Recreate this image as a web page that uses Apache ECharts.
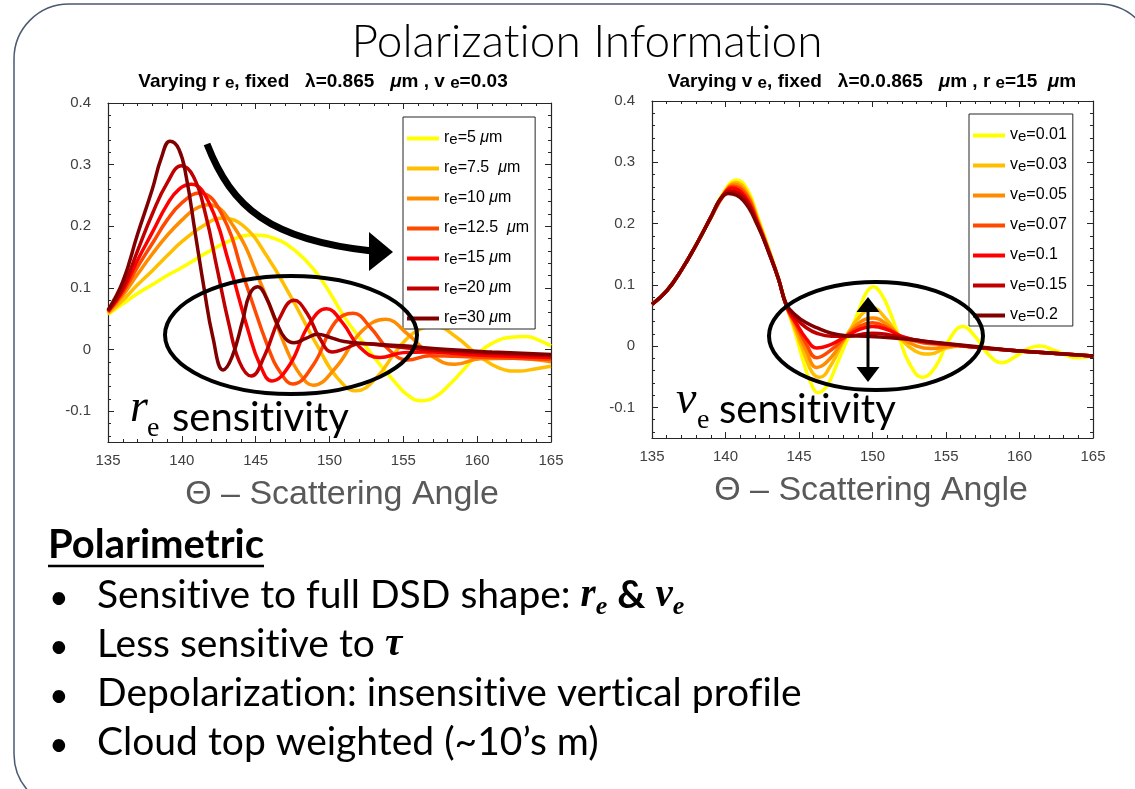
<!DOCTYPE html>
<html lang="en">
<head>
<meta charset="UTF-8">
<title>Polarization Information</title>
<style>
  html, body { margin: 0; padding: 0; background: #fff; }
  #main { width: 1135px; height: 789px; }
</style>
</head>
<body>
<div id="main"></div>
<script src="https://cdn.jsdelivr.net/npm/echarts@6/dist/echarts.min.js"></script>
<script>
// ---- left panel: varying r_e (lambda = 0.865 um, v_e = 0.03)
var reLabels = ['5 ', '7.5  ', '10 ', '12.5  ', '15 ', '20 ', '30 '];
var re5 = [[135,0.057],[136,0.074],[137,0.091],[138,0.105],[139,0.12],[140,0.133],[141.6,0.156],[143.2,0.176],[144.8,0.186],[146.3,0.18],[147.7,0.16],[149,0.128],[150,0.093],[151,0.053],[152.1,0.017],[153.2,-0.018],[154.4,-0.052],[155.3,-0.074],[156.2,-0.083],[157.2,-0.076],[158.2,-0.055],[159.1,-0.032],[160,-0.008],[161,0.01],[162.3,0.02],[163.3,0.021],[164.2,0.015],[165,0.006]];
var re7_5 = [[135,0.058],[136,0.08],[137,0.105],[138,0.128],[139,0.152],[140,0.175],[141.4,0.2],[142.7,0.213],[144.2,0.2],[145.8,0.15],[147.4,0.085],[148.3,0.045],[149.2,0.005],[150.5,-0.045],[151.8,-0.067],[153.2,-0.045],[154.6,0.0],[155.9,0.03],[157.2,0.037],[158.6,0.02],[160.1,-0.01],[161.5,-0.03],[162.8,-0.035],[164,-0.031],[165,-0.027]];
var re10 = [[135,0.06],[136,0.088],[137,0.122],[138,0.155],[139,0.185],[140,0.21],[140.9,0.228],[141.8,0.235],[143.5,0.2],[145.3,0.11],[147.1,0.0],[148,-0.04],[148.9,-0.058],[150.4,-0.03],[152.2,0.03],[153.8,0.049],[155.3,0.025],[156.9,-0.01],[158.5,-0.024],[160.2,-0.015],[162.5,-0.014],[165,-0.02]];
var re12_5 = [[135,0.061],[136,0.092],[137,0.134],[138,0.172],[139,0.21],[140,0.238],[141.2,0.254],[142.7,0.22],[144.3,0.11],[145.9,0.0],[146.7,-0.038],[147.5,-0.056],[148.9,-0.025],[150.4,0.045],[151.6,0.059],[152.8,0.035],[154,0.0],[155.3,-0.017],[156.8,-0.01],[158.5,-0.011],[161,-0.013],[165,-0.016]];
var re15 = [[135,0.062],[136,0.096],[137,0.145],[138,0.19],[139,0.235],[139.8,0.26],[140.65,0.268],[141.9,0.235],[143.2,0.14],[144.5,0.03],[145.3,-0.025],[146.1,-0.051],[147.3,-0.025],[148.6,0.04],[149.8,0.066],[150.9,0.043],[152,0.005],[153.4,-0.013],[155,-0.005],[156.5,-0.004],[160,-0.009],[165,-0.013]];
var re20 = [[135,0.063],[136,0.1],[137,0.16],[138,0.22],[139,0.27],[139.97,0.298],[140.8,0.28],[141.6,0.22],[142.4,0.13],[143.2,0.04],[143.9,-0.02],[144.7,-0.043],[145.6,-0.01],[146.6,0.05],[147.6,0.08],[148.5,0.058],[149.3,0.02],[150.2,-0.004],[151.1,0.002],[152.1,0.01],[153.5,0.007],[156,0.001],[160,-0.005],[165,-0.01]];
var re30 = [[135,0.064],[136,0.11],[137,0.187],[138,0.26],[138.6,0.31],[139.2,0.338],[139.8,0.325],[140.3,0.28],[140.9,0.19],[141.5,0.1],[142.1,0.02],[142.8,-0.033],[143.4,-0.012],[144.1,0.045],[144.6,0.09],[145.15,0.102],[145.7,0.085],[146.4,0.045],[147,0.018],[147.6,0.011],[148.4,0.018],[149.2,0.025],[150,0.02],[151,0.013],[153,0.009],[155,0.006],[158,0.0],[161,-0.004],[165,-0.008]];

// ---- right panel: varying v_e (r_e = 15 um)
var veLabels = ['0.01', '0.03', '0.05', '0.07', '0.1', '0.15', '0.2'];
var ve01 = [[135,0.068],[136,0.09],[137,0.124],[138,0.165],[139,0.21],[139.9,0.252],[140.75,0.271],[141.5,0.255],[142.2,0.21],[143,0.155],[143.6,0.11],[144.15,0.065],[144.7,0.025],[145.3,-0.025],[145.8,-0.06],[146.3,-0.076],[146.9,-0.065],[147.6,-0.028],[148.3,0.012],[149.1,0.06],[149.6,0.088],[150.05,0.097],[150.6,0.085],[151.2,0.055],[151.8,0.015],[152.5,-0.028],[153.4,-0.051],[154.3,-0.033],[155.2,0.01],[156.15,0.032],[157,0.015],[157.9,-0.014],[158.8,-0.027],[159.8,-0.016],[160.6,-0.004],[161.4,0.0],[162.5,-0.008],[163.9,-0.019],[165,-0.016]];
var ve03 = [[135,0.068],[136,0.09],[137,0.124],[138,0.165],[139,0.21],[139.9,0.25],[140.7,0.267],[141.5,0.25],[142.2,0.207],[143,0.153],[143.6,0.11],[144.15,0.065],[144.7,0.03],[145.4,-0.015],[145.9,-0.043],[146.4,-0.051],[147.2,-0.03],[148.2,0.016],[149.2,0.05],[150,0.062],[150.9,0.045],[151.9,0.013],[152.9,-0.008],[153.9,-0.013],[155,-0.003],[156.2,0.0],[157.5,-0.003],[160,-0.008],[162.5,-0.012],[165,-0.016]];
var ve05 = [[135,0.068],[136,0.09],[137,0.124],[138,0.165],[139,0.21],[139.9,0.248],[140.6,0.264],[141.4,0.25],[142.2,0.204],[143,0.152],[143.6,0.11],[144.15,0.065],[144.8,0.03],[145.5,-0.008],[146.2,-0.035],[147.2,-0.018],[148.2,0.016],[149.2,0.04],[150,0.046],[151,0.035],[152,0.013],[153,0.0],[154,-0.004],[155.5,0.0],[157.5,-0.003],[160,-0.008],[162.5,-0.012],[165,-0.016]];
var ve07 = [[135,0.068],[136,0.09],[137,0.124],[138,0.165],[139,0.21],[139.9,0.247],[140.5,0.261],[141.4,0.247],[142.2,0.202],[143,0.151],[143.6,0.11],[144.15,0.065],[144.8,0.035],[145.5,0.003],[146.2,-0.019],[147.2,-0.006],[148.2,0.016],[149.2,0.033],[150,0.038],[151,0.03],[152,0.015],[153.5,0.005],[155.5,0.002],[157.5,-0.003],[160,-0.008],[162.5,-0.012],[165,-0.016]];
var ve10 = [[135,0.068],[136,0.09],[137,0.124],[138,0.165],[139,0.21],[139.8,0.245],[140.45,0.258],[141.3,0.245],[142.2,0.2],[143,0.15],[143.6,0.11],[144.15,0.065],[144.8,0.038],[145.5,0.012],[146.2,-0.003],[147.2,0.003],[148.2,0.016],[149.2,0.028],[150,0.032],[151,0.027],[152,0.016],[153.5,0.007],[155.5,0.002],[157.5,-0.003],[160,-0.008],[162.5,-0.012],[165,-0.016]];
var ve15 = [[135,0.068],[136,0.09],[137,0.124],[138,0.165],[139,0.21],[139.7,0.242],[140.35,0.253],[141.3,0.241],[142.2,0.198],[143,0.15],[143.6,0.11],[144.15,0.066],[144.8,0.045],[145.5,0.03],[146.2,0.021],[147.2,0.016],[148.2,0.016],[149.2,0.019],[150,0.021],[151,0.019],[152,0.014],[153.5,0.008],[155.5,0.002],[157.5,-0.003],[160,-0.008],[162.5,-0.012],[165,-0.016]];
var ve20 = [[135,0.068],[136,0.09],[137,0.124],[138,0.165],[139,0.21],[139.6,0.238],[140.2,0.249],[141.2,0.238],[142.2,0.196],[143,0.149],[143.6,0.11],[144.15,0.068],[144.8,0.05],[145.5,0.038],[146.2,0.03],[147.2,0.021],[148.2,0.017],[149.5,0.016],[150.5,0.015],[152,0.012],[153.5,0.008],[155.5,0.003],[157.5,-0.002],[160,-0.008],[162.5,-0.012],[165,-0.016]];

var palette = ['#ffff00', '#ffbf00', '#ff8c00', '#ff4800', '#ff0000', '#c00000', '#800000'];
var reSeries = [re5, re7_5, re10, re12_5, re15, re20, re30];
var veSeries = [ve01, ve03, ve05, ve07, ve10, ve15, ve20];

var chart = echarts.init(document.getElementById('main'));

var axisColor = '#262626';
var sans = 'Liberation Sans, Arial, sans-serif';
var body = 'Lato, Open Sans, sans-serif';

// Lato would join "ti", "fi" ... into ligatures; the slide font does not
function noLig(s) {
    return s.replace(/([tf])([iflt])/g, '$1\u200C$2');
}

function xAxes(gi) {
    var base = {
        type: 'value', gridIndex: gi, min: 135, max: 165, interval: 5,
        axisLine: { show: true, onZero: false, lineStyle: { color: axisColor, width: 1.2 } },
        axisTick: { show: true, inside: true, length: 6, lineStyle: { color: axisColor } },
        minorTick: { show: true, splitNumber: 5, length: 3, lineStyle: { color: axisColor } },
        splitLine: { show: false },
        axisLabel: { color: '#404040', fontSize: 15, fontFamily: sans, margin: 11 }
    };
    var top = echarts.util.merge(echarts.util.clone(base), { position: 'top', axisLabel: { show: false } }, true);
    return [echarts.util.merge(echarts.util.clone(base), { position: 'bottom' }, true), top];
}
function yAxes(gi) {
    var base = {
        type: 'value', gridIndex: gi, min: -0.15, max: 0.4, splitNumber: 5,
        axisLine: { show: true, onZero: false, lineStyle: { color: axisColor, width: 1.2 } },
        axisTick: { show: true, inside: true, length: 6, lineStyle: { color: axisColor } },
        minorTick: { show: true, splitNumber: 5, length: 3, lineStyle: { color: axisColor } },
        splitLine: { show: false },
        axisLabel: {
            color: '#404040', fontSize: 15, fontFamily: sans, margin: 17, showMinLabel: false,
            formatter: function (v) { return String(Math.round(v * 10) / 10); }
        }
    };
    var right = echarts.util.merge(echarts.util.clone(base), { position: 'right', axisLabel: { show: false } }, true);
    return [echarts.util.merge(echarts.util.clone(base), { position: 'left' }, true), right];
}

var series = [];
reSeries.forEach(function (d, i) {
    series.push({
        type: 'line', name: 'r' + reLabels[i], xAxisIndex: 0, yAxisIndex: 0, data: d,
        smooth: 0.45, showSymbol: false, z: 2 + i,
        lineStyle: { width: 3.5, color: palette[i] }, itemStyle: { color: palette[i] }
    });
});
veSeries.forEach(function (d, i) {
    series.push({
        type: 'line', name: 'v' + veLabels[i], xAxisIndex: 2, yAxisIndex: 2, data: d,
        smooth: 0.45, showSymbol: false, z: 2 + i,
        lineStyle: { width: 3.5, color: palette[i] }, itemStyle: { color: palette[i] }
    });
});

var legendRich = {
    a: { fontSize: 16, fontFamily: sans, color: '#000', lineHeight: 17, verticalAlign: 'top' },
    i: { fontSize: 16, fontFamily: sans, fontStyle: 'italic', color: '#000', lineHeight: 17, verticalAlign: 'top' },
    s: { fontSize: 15, fontFamily: sans, color: '#000', lineHeight: 14, padding: [12, 0, 0, 0], verticalAlign: 'bottom' }
};
function legendBase(left, top, names, fmt) {
    return {
        left: left, top: top, orient: 'vertical', data: names, icon: 'rect',
        itemWidth: 32, itemHeight: 4, itemGap: 3, selectedMode: false,
        padding: [3, 6, 2, 4], backgroundColor: '#fff', borderColor: axisColor, borderWidth: 1,
        formatter: fmt, textStyle: { rich: legendRich }
    };
}

var titleRich = {
    b: { fontSize: 19, fontWeight: 'bold', fontFamily: sans, color: '#000', lineHeight: 20, verticalAlign: 'top' },
    i: { fontSize: 19, fontWeight: 'bold', fontStyle: 'italic', fontFamily: sans, color: '#000', lineHeight: 20, verticalAlign: 'top' },
    s: { fontSize: 17, fontWeight: 'bold', fontFamily: sans, color: '#000', lineHeight: 17, padding: [10, 0, 0, 0], verticalAlign: 'bottom' }
};
var bulletRich = {
    t: { fontSize: 39, fontFamily: body, color: '#000', lineHeight: 44, verticalAlign: 'top' },
    tb: { fontSize: 39, fontFamily: body, fontWeight: 'bold', color: '#000', lineHeight: 44, verticalAlign: 'top' },
    m: { fontSize: 39, fontFamily: 'Liberation Serif, serif', fontWeight: 'bold', fontStyle: 'italic', color: '#000', lineHeight: 44, verticalAlign: 'top' },
    ms: { fontSize: 26, fontFamily: 'Liberation Serif, serif', fontWeight: 'bold', fontStyle: 'italic', color: '#000', lineHeight: 26, padding: [22, 0, 0, 0], verticalAlign: 'bottom' }
};

// measure the underline length for the heading
var ctx = document.createElement('canvas').getContext('2d');
ctx.font = 'bold 40px Lato, Open Sans, sans-serif';
var headW = ctx.measureText('Polarimetric').width;

var bullets = [
    '{t|' + noLig('Sensitive to full DSD shape: ') + '}{m|r}{ms|e}{t| }{tb|&}{t| }{m|v}{ms|e}',
    '{t|' + noLig('Less sensitive to ') + '}{m|τ}',
    '{t|' + noLig('Depolarization: insensitive vertical profile') + '}',
    '{t|' + noLig('Cloud top weighted (~10’s m)') + '}'
];
var bulletY = [598, 647, 696, 745];

var graphics = [
    { type: 'rect', z: 0, shape: { x: 14, y: 4, width: 1140, height: 805, r: 55 },
      style: { fill: 'none', stroke: '#4a5a70', lineWidth: 1.5 } },
    { type: 'text', z: 100, x: 587, y: 42,
      style: { text: noLig('Polarization Information'), font: '300 46px Lato, Open Sans, sans-serif', fill: '#000', align: 'center', verticalAlign: 'middle' } },
    { type: 'text', z: 100, x: 323, y: 82,
      style: { text: '{b|Varying r }{s|e}{b|, fixed   λ=0.865   }{i|μ}{b|m , v }{s|e}{b|=0.03}', rich: titleRich, align: 'center', verticalAlign: 'middle' } },
    { type: 'text', z: 100, x: 872, y: 82,
      style: { text: '{b|Varying v }{s|e}{b|, fixed   λ=0.0.865   }{i|μ}{b|m , r }{s|e}{b|=15  }{i|μ}{b|m}', rich: titleRich, align: 'center', verticalAlign: 'middle' } },
    { type: 'text', z: 100, x: 342, y: 495,
      style: { text: 'Θ – Scattering Angle', font: '34px ' + sans, fill: '#595959', align: 'center', verticalAlign: 'middle' } },
    { type: 'text', z: 100, x: 871, y: 491,
      style: { text: 'Θ – Scattering Angle', font: '34px ' + sans, fill: '#595959', align: 'center', verticalAlign: 'middle' } },
    // r_e sensitivity label
    { type: 'text', z: 100, x: 130, y: 432,
      style: { text: 'r', font: 'italic 46px Liberation Serif, serif', fill: '#000', verticalAlign: 'bottom' } },
    { type: 'text', z: 100, x: 147, y: 443,
      style: { text: 'e', font: '28px Liberation Serif, serif', fill: '#000', verticalAlign: 'bottom' } },
    { type: 'text', z: 100, x: 172, y: 418,
      style: { text: noLig('sensitivity'), font: '40px ' + body, fill: '#000', verticalAlign: 'middle' } },
    // v_e sensitivity label
    { type: 'text', z: 100, x: 676, y: 424,
      style: { text: 'v', font: 'italic 46px Liberation Serif, serif', fill: '#000', verticalAlign: 'bottom' } },
    { type: 'text', z: 100, x: 697, y: 435,
      style: { text: 'e', font: '28px Liberation Serif, serif', fill: '#000', verticalAlign: 'bottom' } },
    { type: 'text', z: 100, x: 719, y: 410,
      style: { text: noLig('sensitivity'), font: '40px ' + body, fill: '#000', verticalAlign: 'middle' } },
    // ellipses
    { type: 'ellipse', z: 100, shape: { cx: 291, cy: 335, rx: 126, ry: 59 },
      style: { fill: 'none', stroke: '#000', lineWidth: 4 } },
    { type: 'ellipse', z: 100, shape: { cx: 876, cy: 336, rx: 107, ry: 54 },
      style: { fill: 'none', stroke: '#000', lineWidth: 4 } },
    // curved arrow (left)
    { type: 'bezierCurve', z: 100, shape: { x1: 207, y1: 144, cpx1: 232, cpy1: 208, cpx2: 270, cpy2: 240, x2: 372, y2: 251 },
      style: { fill: 'none', stroke: '#000', lineWidth: 7 } },
    { type: 'polygon', z: 100, shape: { points: [[369, 232], [393, 252], [369, 271]] }, style: { fill: '#000' } },
    // double arrow (right)
    { type: 'line', z: 100, shape: { x1: 868, y1: 305, x2: 868, y2: 373 }, style: { stroke: '#000', lineWidth: 3 } },
    { type: 'polygon', z: 100, shape: { points: [[868, 297], [856.5, 312], [879.5, 312]] }, style: { fill: '#000' } },
    { type: 'polygon', z: 100, shape: { points: [[868, 382], [856.5, 367], [879.5, 367]] }, style: { fill: '#000' } },
    // bottom text
    { type: 'text', z: 100, x: 48, y: 545,
      style: { text: 'Polarimetric', font: 'bold 40px ' + body, fill: '#000', verticalAlign: 'middle' } },
    { type: 'line', z: 100, shape: { x1: 48, y1: 566, x2: 48 + headW, y2: 566 }, style: { stroke: '#000', lineWidth: 2.5 } }
];
bullets.forEach(function (b, i) {
    graphics.push({ type: 'text', z: 100, x: 49, y: bulletY[i],
        style: { text: '•', font: '34px ' + body, fill: '#000', verticalAlign: 'middle' } });
    graphics.push({ type: 'text', z: 100, x: 97, y: bulletY[i],
        style: { text: b, rich: bulletRich, verticalAlign: 'middle' } });
});

var option = {
    backgroundColor: '#fff',
    animation: false,
    grid: [
        { left: 108, top: 103, width: 443, height: 339 },
        { left: 652, top: 101, width: 441, height: 337 }
    ],
    xAxis: xAxes(0).concat(xAxes(1)),
    yAxis: yAxes(0).concat(yAxes(1)),
    legend: [
        legendBase(403, 117, reLabels.map(function (l) { return 'r' + l; }), function (name) {
            return '{a|r}{s|e}{a|=' + name.slice(1) + '}{i|μ}{a|m}';
        }),
        legendBase(969, 114, veLabels.map(function (l) { return 'v' + l; }), function (name) {
            return '{a|v}{s|e}{a|=' + name.slice(1) + '}';
        })
    ],
    series: series,
    graphic: { elements: graphics }
};
chart.setOption(option);
</script>
</body>
</html>
